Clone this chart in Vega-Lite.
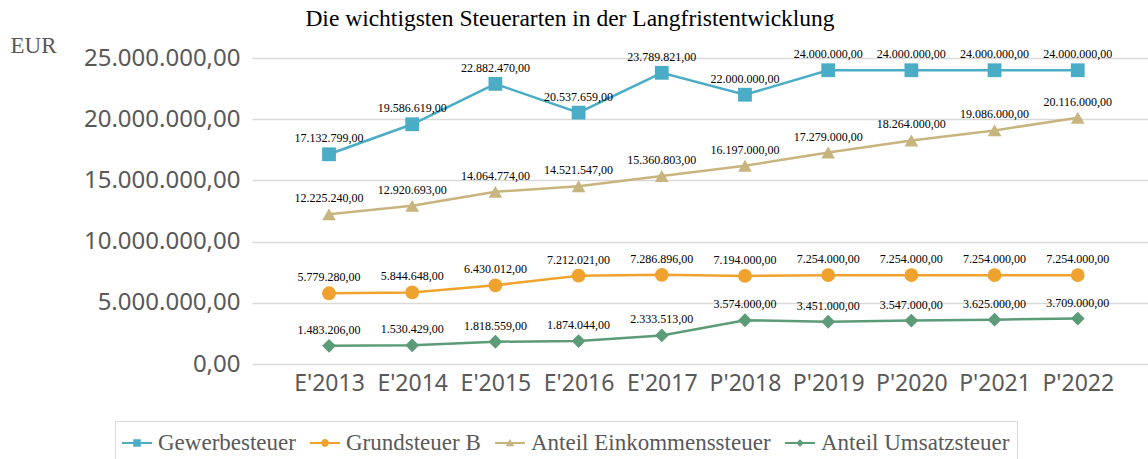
{
  "$schema": "https://vega.github.io/schema/vega-lite/v6.json",
  "autosize": {"type": "none"},
  "padding": {"left": 252, "top": 58, "right": 0, "bottom": 95},
  "width": 896,
  "height": 306,
  "background": "white",
  "config": {
    "locale": {"number": {"decimal": ",", "thousands": ".", "grouping": [3], "currency": ["", " €"]}},
    "view": {"stroke": null}
  },
  "title": {
    "text": "Die wichtigsten Steuerarten in der Langfristentwicklung",
    "font": "Liberation Serif",
    "fontSize": 23.5,
    "fontWeight": "normal",
    "color": "#000000",
    "anchor": "middle",
    "dx": -130,
    "offset": 4
  },
  "data": {
    "values": [
      {"Jahr": "E'2013", "Art": "Gewerbesteuer", "Wert": 17132799},
      {"Jahr": "E'2014", "Art": "Gewerbesteuer", "Wert": 19586619},
      {"Jahr": "E'2015", "Art": "Gewerbesteuer", "Wert": 22882470},
      {"Jahr": "E'2016", "Art": "Gewerbesteuer", "Wert": 20537659},
      {"Jahr": "E'2017", "Art": "Gewerbesteuer", "Wert": 23789821},
      {"Jahr": "P'2018", "Art": "Gewerbesteuer", "Wert": 22000000},
      {"Jahr": "P'2019", "Art": "Gewerbesteuer", "Wert": 24000000},
      {"Jahr": "P'2020", "Art": "Gewerbesteuer", "Wert": 24000000},
      {"Jahr": "P'2021", "Art": "Gewerbesteuer", "Wert": 24000000},
      {"Jahr": "P'2022", "Art": "Gewerbesteuer", "Wert": 24000000},
      {"Jahr": "E'2013", "Art": "Grundsteuer B", "Wert": 5779280},
      {"Jahr": "E'2014", "Art": "Grundsteuer B", "Wert": 5844648},
      {"Jahr": "E'2015", "Art": "Grundsteuer B", "Wert": 6430012},
      {"Jahr": "E'2016", "Art": "Grundsteuer B", "Wert": 7212021},
      {"Jahr": "E'2017", "Art": "Grundsteuer B", "Wert": 7286896},
      {"Jahr": "P'2018", "Art": "Grundsteuer B", "Wert": 7194000},
      {"Jahr": "P'2019", "Art": "Grundsteuer B", "Wert": 7254000},
      {"Jahr": "P'2020", "Art": "Grundsteuer B", "Wert": 7254000},
      {"Jahr": "P'2021", "Art": "Grundsteuer B", "Wert": 7254000},
      {"Jahr": "P'2022", "Art": "Grundsteuer B", "Wert": 7254000},
      {"Jahr": "E'2013", "Art": "Anteil Einkommenssteuer", "Wert": 12225240},
      {"Jahr": "E'2014", "Art": "Anteil Einkommenssteuer", "Wert": 12920693},
      {"Jahr": "E'2015", "Art": "Anteil Einkommenssteuer", "Wert": 14064774},
      {"Jahr": "E'2016", "Art": "Anteil Einkommenssteuer", "Wert": 14521547},
      {"Jahr": "E'2017", "Art": "Anteil Einkommenssteuer", "Wert": 15360803},
      {"Jahr": "P'2018", "Art": "Anteil Einkommenssteuer", "Wert": 16197000},
      {"Jahr": "P'2019", "Art": "Anteil Einkommenssteuer", "Wert": 17279000},
      {"Jahr": "P'2020", "Art": "Anteil Einkommenssteuer", "Wert": 18264000},
      {"Jahr": "P'2021", "Art": "Anteil Einkommenssteuer", "Wert": 19086000},
      {"Jahr": "P'2022", "Art": "Anteil Einkommenssteuer", "Wert": 20116000},
      {"Jahr": "E'2013", "Art": "Anteil Umsatzsteuer", "Wert": 1483206},
      {"Jahr": "E'2014", "Art": "Anteil Umsatzsteuer", "Wert": 1530429},
      {"Jahr": "E'2015", "Art": "Anteil Umsatzsteuer", "Wert": 1818559},
      {"Jahr": "E'2016", "Art": "Anteil Umsatzsteuer", "Wert": 1874044},
      {"Jahr": "E'2017", "Art": "Anteil Umsatzsteuer", "Wert": 2333513},
      {"Jahr": "P'2018", "Art": "Anteil Umsatzsteuer", "Wert": 3574000},
      {"Jahr": "P'2019", "Art": "Anteil Umsatzsteuer", "Wert": 3451000},
      {"Jahr": "P'2020", "Art": "Anteil Umsatzsteuer", "Wert": 3547000},
      {"Jahr": "P'2021", "Art": "Anteil Umsatzsteuer", "Wert": 3625000},
      {"Jahr": "P'2022", "Art": "Anteil Umsatzsteuer", "Wert": 3709000}
    ]
  },
  "encoding": {
    "x": {
      "field": "Jahr",
      "type": "ordinal",
      "sort": null,
      "scale": {"type": "point", "padding": 0.885, "align": 0.523},
      "axis": {
        "title": null,
        "labelAngle": 0,
        "labelFont": "Noto Sans",
        "labelFontSize": 23,
        "labelColor": "#595959",
        "labelPadding": 8,
        "ticks": false,
        "domain": false,
        "grid": false
      }
    },
    "y": {
      "field": "Wert",
      "type": "quantitative",
      "scale": {"domain": [0, 25000000], "nice": false},
      "axis": {
        "values": [0, 5000000, 10000000, 15000000, 20000000, 25000000],
        "format": ",.2f",
        "title": "EUR",
        "titleAngle": 0,
        "titleX": -242,
        "titleY": -6,
        "titleAlign": "left",
        "titleBaseline": "alphabetic",
        "titleFont": "Liberation Serif",
        "titleFontSize": 23,
        "titleFontWeight": "normal",
        "titleColor": "#595959",
        "labelFont": "Noto Sans",
        "labelFontSize": 24,
        "labelColor": "#595959",
        "labelPadding": 12,
        "ticks": false,
        "domain": false,
        "gridColor": "#d9d9d9",
        "gridWidth": 1.5
      }
    },
    "color": {
      "field": "Art",
      "type": "nominal",
      "scale": {
        "domain": ["Gewerbesteuer", "Grundsteuer B", "Anteil Einkommenssteuer", "Anteil Umsatzsteuer"],
        "range": ["#4BACC6", "#F0A22E", "#C8B47E", "#5B9B77"]
      },
      "legend": {
        "title": null,
        "orient": "none",
        "direction": "horizontal",
        "legendX": -137,
        "legendY": 363,
        "labelFont": "Liberation Serif",
        "labelFontSize": 23,
        "labelColor": "#595959",
        "labelLimit": 400,
        "labelOffset": 6,
        "columnPadding": 14,
        "symbolSize": 900,
        "symbolStrokeWidth": 0,
        "padding": 7,
        "fillColor": "white",
        "strokeColor": "#d9d9d9",
        "encode": {
          "symbols": {
            "update": {
              "shape": {"signal": "datum.value === 'Gewerbesteuer' ? 'M-1,-0.07H1V0.07H-1Z M-0.25,-0.25H0.25V0.25H-0.25Z' : datum.value === 'Grundsteuer B' ? 'M-1,-0.07H1V0.07H-1Z M-0.26,0A0.26,0.26 0 1,1 0.26,0A0.26,0.26 0 1,1 -0.26,0Z' : datum.value === 'Anteil Einkommenssteuer' ? 'M-1,-0.07H1V0.07H-1Z M0,-0.26L0.29,0.21H-0.29Z' : 'M-1,-0.07H1V0.07H-1Z M0,-0.25L0.25,0L0,0.25L-0.25,0Z'"},
              "fill": {"scale": "color", "field": "value"},
              "fillOpacity": {"value": 1},
              "strokeWidth": {"value": 0}
            }
          }
        }
      }
    }
  },
  "layer": [
    {
      "mark": {"type": "line", "strokeWidth": 2.5}
    },
    {
      "mark": {"type": "point", "filled": true, "opacity": 1, "size": 190},
      "encoding": {
        "shape": {
          "condition": [
            {"test": "datum.Art === 'Gewerbesteuer'", "value": "square"},
            {"test": "datum.Art === 'Grundsteuer B'", "value": "circle"},
            {"test": "datum.Art === 'Anteil Einkommenssteuer'", "value": "triangle-up"}
          ],
          "value": "diamond"
        }
      }
    },
    {
      "mark": {"type": "text", "font": "Liberation Serif", "fontSize": 12, "color": "#000000", "baseline": "middle", "dy": -16},
      "encoding": {
        "text": {"field": "Wert", "type": "quantitative", "format": ",.2f"},
        "color": {"value": "#000000"}
      }
    }
  ]
}
